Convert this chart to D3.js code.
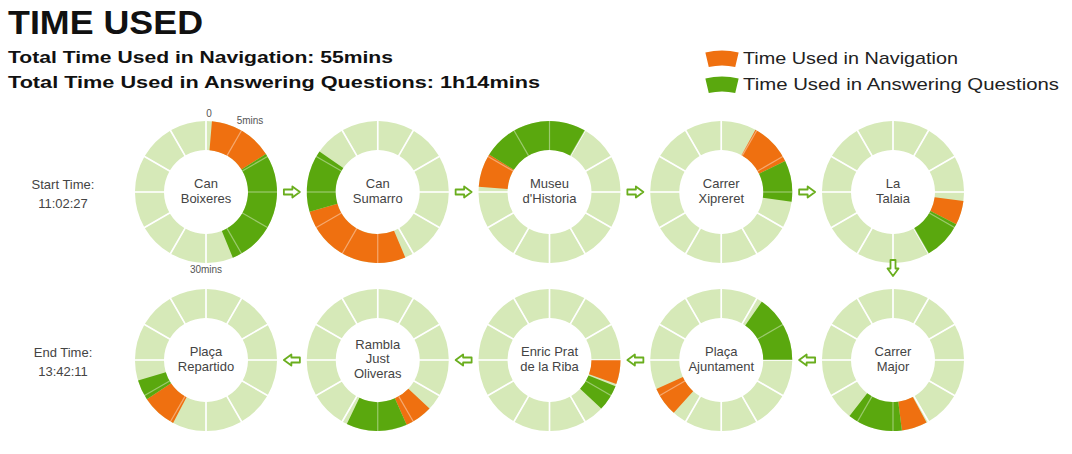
<!DOCTYPE html>
<html>
<head>
<meta charset="utf-8">
<script src="https://cdn.jsdelivr.net/npm/d3@7"></script>
<style>
  body { margin: 0; background: #fff; }
  text { font-family: "Liberation Sans", Arial, sans-serif; }
</style>
</head>
<body>
<div id="chart"></div>
<script>
// stations in visiting order (top row left->right, then bottom row right->left)
const stations = [
  ["Can", "Boixeres"],
  ["Can", "Sumarro"],
  ["Museu", "d'Historia"],
  ["Carrer", "Xipreret"],
  ["La", "Talaia"],
  ["Carrer", "Major"],
  ["Plaça", "Ajuntament"],
  ["Enric Prat", "de la Riba"],
  ["Rambla", "Just", "Oliveras"],
  ["Plaça", "Repartido"]
];

// minutes on the 60 min clock face (values above 60 wrap past the top)
const navStart = [0.8, 26.2, 45.7, 4.8, 16.2, 25.3, 37.0, 15.0, 22.2, 34.6];
const navEnd   = [9.6, 42.3, 50.3, 10.7, 19.5, 28.8, 41.0, 18.3, 26.0, 39.4];
const ansStart = [9.6, 42.3, 50.3, 10.7, 19.5, 28.8, 5.8, 18.6, 26.0, 39.4];
const ansEnd   = [26.3, 50.8, 65.0, 16.3, 25.0, 36.3, 15.0, 22.2, 34.3, 42.2];

const faceLabels = ["0", "5mins", "30mins"];
const faceMinutes = [0, 5, 30];

const legendLabels = ["Time Used in Navigation", "Time Used in Answering Questions"];
const colors = { bg: "#d6e9b8", nav: "#ef7010", ans: "#5aa80e", arrow: "#6aae1e" };

const width = 1072, height = 454;
const outerR = 71, innerR = 42;

const svg = d3.select("#chart").append("svg")
  .attr("width", width)
  .attr("height", height);

// header
function fitText(sel, w) {
  sel.attr("textLength", w).attr("lengthAdjust", "spacingAndGlyphs");
}
svg.append("text").attr("x", 8).attr("y", 34)
  .style("font-size", "33px").style("font-weight", "bold").style("fill", "#111")
  .text("TIME USED").call(fitText, 195);
svg.append("text").attr("x", 8).attr("y", 63)
  .style("font-size", "17px").style("font-weight", "bold").style("fill", "#111")
  .text("Total Time Used in Navigation: 55mins").call(fitText, 385);
svg.append("text").attr("x", 8).attr("y", 88)
  .style("font-size", "17px").style("font-weight", "bold").style("fill", "#111")
  .text("Total Time Used in Answering Questions: 1h14mins").call(fitText, 532);

// legend
const swatch = d3.arc().innerRadius(58).outerRadius(73)
  .startAngle(-0.23).endAngle(0.23);
const legend = svg.append("g");
[colors.nav, colors.ans].forEach((c, i) => {
  const y = 58 + i * 26;
  legend.append("path")
    .attr("d", swatch)
    .attr("transform", `translate(722, ${y + 65.5})`)
    .attr("fill", c);
  legend.append("text")
    .attr("x", 743).attr("y", y + 6)
    .style("font-size", "17px").style("fill", "#222")
    .text(legendLabels[i])
    .call(fitText, i === 0 ? 215 : 316);
});

// layout scales
const col = d3.scaleLinear().domain([0, 4]).range([206, 893]);
const rowY = [192, 360];
const angle = d3.scaleLinear().domain([0, 60]).range([0, 2 * Math.PI]);

function pos(i) {
  return i < 5 ? [col(i), rowY[0]] : [col(9 - i), rowY[1]];
}

const bgArc = d3.arc().innerRadius(innerR).outerRadius(outerR).padAngle(0.02);
const seg = d3.arc().innerRadius(innerR).outerRadius(outerR);
const ticks = d3.range(0, 60, 5);

stations.forEach((name, i) => {
  const [cx, cy] = pos(i);
  const g = svg.append("g").attr("transform", `translate(${cx}, ${cy})`);

  g.selectAll(".bg")
    .data(ticks)
    .join("path")
    .attr("d", m => bgArc({ startAngle: angle(m), endAngle: angle(m + 5) }))
    .attr("fill", colors.bg);

  g.append("path")
    .attr("d", seg({ startAngle: angle(navStart[i]), endAngle: angle(navEnd[i]) }))
    .attr("fill", colors.nav);
  g.append("path")
    .attr("d", seg({ startAngle: angle(ansStart[i]), endAngle: angle(ansEnd[i]) }))
    .attr("fill", colors.ans);

  // faint 5 min dividers over the coloured parts
  g.selectAll(".tick")
    .data(ticks)
    .join("line")
    .attr("x1", m => innerR * Math.sin(angle(m)))
    .attr("y1", m => -innerR * Math.cos(angle(m)))
    .attr("x2", m => outerR * Math.sin(angle(m)))
    .attr("y2", m => -outerR * Math.cos(angle(m)))
    .attr("stroke", "#fff")
    .attr("stroke-opacity", 0.4)
    .attr("stroke-width", 1.2);

  g.selectAll(".name")
    .data(name)
    .join("text")
    .attr("text-anchor", "middle")
    .attr("dominant-baseline", "middle")
    .attr("y", (d, k) => (k - (name.length - 1) / 2) * 14.5)
    .style("font-size", "13px")
    .style("fill", "#444")
    .text(d => d);

  if (i === 0) {
    g.selectAll(".face")
      .data(faceMinutes)
      .join("text")
      .attr("text-anchor", "middle")
      .attr("dominant-baseline", "middle")
      .attr("x", (m, k) => (k === 1 ? 88 : 78) * Math.sin(angle(m)) + (k === 0 ? 3 : 0))
      .attr("y", (m, k) => -(k === 1 ? 82 : 78) * Math.cos(angle(m)))
      .style("font-size", "10px")
      .style("fill", "#555")
      .text((m, k) => faceLabels[k]);
  }
});

// start / end times
const timeLabels = [["Start Time:", "11:02:27"], ["End Time:", "13:42:11"]];
timeLabels.forEach((t, r) => {
  svg.selectAll(null)
    .data(t)
    .join("text")
    .attr("x", 63)
    .attr("y", (d, k) => rowY[r] - 6 + k * 19)
    .attr("text-anchor", "middle")
    .attr("dominant-baseline", "middle")
    .style("font-size", "13px")
    .style("fill", "#444")
    .text(d => d);
});

// hollow arrows between stations
const arrowPath = "M-8,-2.5 L0.5,-2.5 L0.5,-5.5 L8,0 L0.5,5.5 L0.5,2.5 L-8,2.5 Z";
const arrows = [];
for (let i = 0; i < 9; i++) {
  const a = pos(i), b = pos(i + 1);
  let rot = 0;
  if (b[1] > a[1]) rot = 90; else if (b[0] < a[0]) rot = 180;
  arrows.push({ x: (a[0] + b[0]) / 2, y: (a[1] + b[1]) / 2 + (rot === 90 ? -8 : 0), rot });
}
svg.selectAll(".arrow")
  .data(arrows)
  .join("path")
  .attr("d", arrowPath)
  .attr("transform", d => `translate(${d.x}, ${d.y}) rotate(${d.rot})`)
  .attr("fill", "#fff")
  .attr("stroke", colors.arrow)
  .attr("stroke-width", 1.8)
  .attr("stroke-linejoin", "round");
</script>
</body>
</html>
